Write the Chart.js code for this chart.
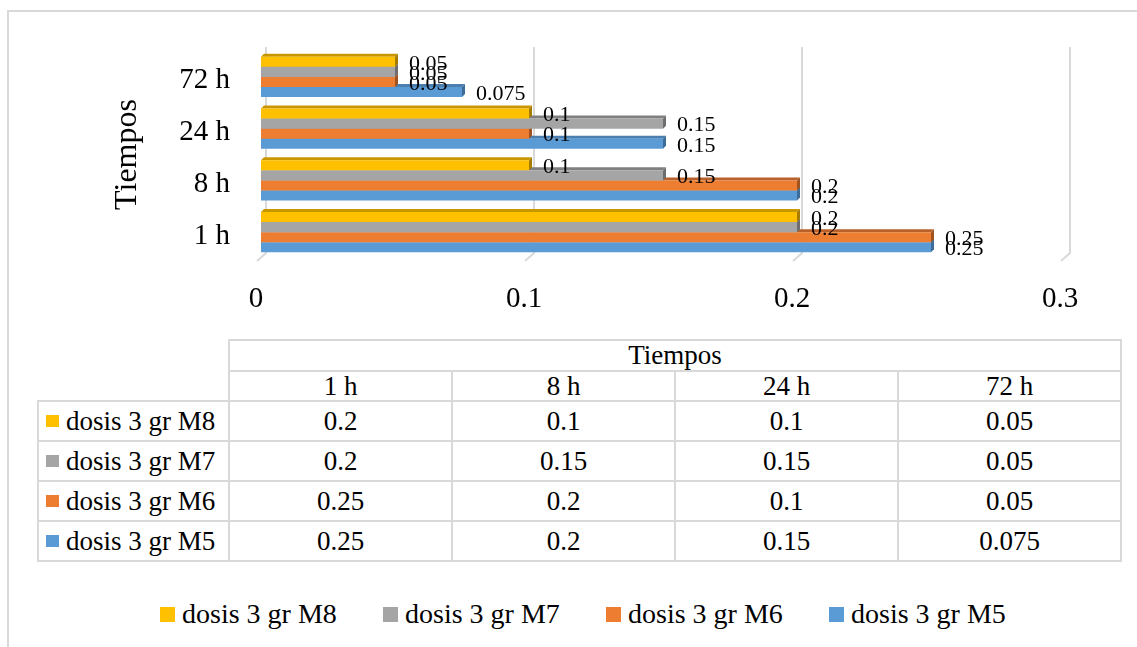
<!DOCTYPE html>
<html>
<head>
<meta charset="utf-8">
<script src="https://cdn.jsdelivr.net/npm/chart.js@4/dist/chart.umd.min.js"></script>
<style>
  html, body { margin: 0; padding: 0; background: #fff; }
  #wrap { position: relative; width: 1137px; height: 647px; overflow: hidden; font-family: "Liberation Serif", "Times New Roman", serif; color: #000; }
  #frame { position: absolute; left: 7px; top: 10px; width: 1200px; height: 700px; border: 2px solid #d9d9d9; box-sizing: border-box; }
  #chart { position: absolute; left: 0; top: 0; }
  .cell { position: absolute; box-sizing: border-box; border: 2px solid #d9d9d9; display: flex; align-items: center; justify-content: center; font-size: 27px; white-space: nowrap; }
  .cell.key { justify-content: flex-start; padding-left: 7px; }
  .sw { display: inline-block; width: 13px; height: 12px; margin-right: 7px; }
  .leg { position: absolute; top: 596px; height: 36px; display: flex; align-items: center; font-size: 28px; white-space: nowrap; }
  .leg .sw { width: 15px; height: 15px; margin-right: 7px; }
</style>
</head>
<body>
<div id="wrap">
  <div id="frame"></div>
  <canvas id="chart" width="1137" height="335"></canvas>
  <div id="table"></div>
  <div id="legend"></div>
</div>
<script>
// Time points (category axis) and one value list per series
const categories = ['1 h', '8 h', '24 h', '72 h'];
const seriesNames = ['dosis 3 gr M8', 'dosis 3 gr M7', 'dosis 3 gr M6', 'dosis 3 gr M5'];
const valuesM8 = [0.2, 0.1, 0.1, 0.05];
const valuesM7 = [0.2, 0.15, 0.15, 0.05];
const valuesM6 = [0.25, 0.2, 0.1, 0.05];
const valuesM5 = [0.25, 0.2, 0.15, 0.075];
const xTickValues = [0, 0.1, 0.2, 0.3];
const axisTitle = 'Tiempos';

const seriesValues = [valuesM8, valuesM7, valuesM6, valuesM5];
const fillColors = ['#FFC000', '#A5A5A5', '#ED7D31', '#5B9BD5'];
const topColors = ['#C79600', '#808080', '#B9612A', '#4A7FB0'];
const sideColors = ['#A67C00', '#6E6E6E', '#A0521F', '#3D6C98'];

const SERIF = '"Liberation Serif", "Times New Roman", serif';
const DEPTH = 3;

// Back-wall gridlines with a short slanted foot, like a 3-D floor edge
const wallGrid = {
  id: 'wallGrid',
  beforeDatasetsDraw(chart) {
    const { ctx, chartArea, scales } = chart;
    ctx.save();
    ctx.strokeStyle = '#d9d9d9';
    ctx.lineWidth = 2;
    xTickValues.forEach(v => {
      const px = scales.x.getPixelForValue(v);
      ctx.beginPath();
      ctx.moveTo(px + 5, chartArea.top - 4);
      ctx.lineTo(px + 5, chartArea.bottom - 5);
      ctx.lineTo(px - 4, chartArea.bottom + 3);
      ctx.stroke();
    });
    ctx.restore();
  }
};

// Top and end faces of each bar, drawn before the front faces
const barDepth = {
  id: 'barDepth',
  beforeDatasetsDraw(chart) {
    const ctx = chart.ctx;
    ctx.save();
    for (let d = chart.data.datasets.length - 1; d >= 0; d--) {
      const meta = chart.getDatasetMeta(d);
      meta.data.forEach(bar => {
        const x0 = bar.base, x1 = bar.x;
        const top = bar.y - bar.height / 2, bottom = bar.y + bar.height / 2;
        ctx.fillStyle = topColors[d];
        ctx.beginPath();
        ctx.moveTo(x0, top);
        ctx.lineTo(x0 + DEPTH, top - DEPTH);
        ctx.lineTo(x1 + DEPTH, top - DEPTH);
        ctx.lineTo(x1, top);
        ctx.closePath();
        ctx.fill();
        ctx.fillStyle = sideColors[d];
        ctx.beginPath();
        ctx.moveTo(x1, top);
        ctx.lineTo(x1 + DEPTH, top - DEPTH);
        ctx.lineTo(x1 + DEPTH, bottom - DEPTH);
        ctx.lineTo(x1, bottom);
        ctx.closePath();
        ctx.fill();
      });
    }
    ctx.restore();
  }
};

// Value labels just past the end of every bar
const endLabels = {
  id: 'endLabels',
  afterDatasetsDraw(chart) {
    const ctx = chart.ctx;
    ctx.save();
    ctx.font = '22px ' + SERIF;
    ctx.fillStyle = '#000';
    ctx.textAlign = 'left';
    ctx.textBaseline = 'middle';
    chart.data.datasets.forEach((ds, d) => {
      chart.getDatasetMeta(d).data.forEach((bar, i) => {
        ctx.fillText(String(ds.data[i]), bar.x + 14, bar.y + 2);
      });
    });
    ctx.restore();
  }
};

const PAD_LEFT = 104, PLOT_LEFT = 261, PLOT_BOTTOM = 258, CANVAS_H = 335;

new Chart(document.getElementById('chart'), {
  type: 'bar',
  data: {
    labels: categories,
    datasets: seriesNames.map((name, k) => ({
      label: name,
      data: seriesValues[k],
      backgroundColor: fillColors[k],
      borderWidth: 0,
      categoryPercentage: 0.78,
      barPercentage: 1.0
    }))
  },
  options: {
    indexAxis: 'y',
    responsive: false,
    animation: false,
    layout: { padding: { left: PAD_LEFT, right: 72, top: 51, bottom: 0 } },
    plugins: { legend: { display: false }, tooltip: { enabled: false } },
    scales: {
      x: {
        min: 0, max: 0.3,
        afterBuildTicks: s => { s.ticks = xTickValues.map(v => ({ value: v })); },
        afterFit: s => { s.height = CANVAS_H - PLOT_BOTTOM; },
        grid: { display: false, drawTicks: false },
        border: { display: false },
        ticks: {
          font: { family: SERIF, size: 29 },
          color: '#000',
          padding: 24,
          labelOffset: -5,
          callback: v => String(v)
        }
      },
      y: {
        reverse: true,
        afterFit: s => { s.width = PLOT_LEFT - PAD_LEFT; },
        grid: { display: false, drawTicks: false },
        border: { display: false },
        ticks: { font: { family: SERIF, size: 29 }, color: '#000', padding: 31, labelOffset: 4 },
        title: { display: true, text: axisTitle, font: { family: SERIF, size: 32 }, color: '#000', padding: 4 }
      }
    }
  },
  plugins: [wallGrid, barDepth, endLabels]
});

// Data table under the plot
const colX = [38, 229, 452, 675, 898, 1121];
const rowY = [340, 371, 401, 441, 481, 521, 561];
const table = document.getElementById('table');
function cell(x0, y0, x1, y1, html, cls) {
  const el = document.createElement('div');
  el.className = 'cell' + (cls ? ' ' + cls : '');
  el.style.left = (x0 - 1) + 'px';
  el.style.top = (y0 - 1) + 'px';
  el.style.width = (x1 - x0 + 2) + 'px';
  el.style.height = (y1 - y0 + 2) + 'px';
  el.innerHTML = html;
  table.appendChild(el);
}
cell(colX[1], rowY[0], colX[5], rowY[1], axisTitle);
categories.forEach((c, j) => cell(colX[j + 1], rowY[1], colX[j + 2], rowY[2], c));
seriesNames.forEach((name, k) => {
  cell(colX[0], rowY[k + 2], colX[1], rowY[k + 3],
    '<span class="sw" style="background:' + fillColors[k] + '"></span>' + name, 'key');
  seriesValues[k].forEach((v, j) => cell(colX[j + 1], rowY[k + 2], colX[j + 2], rowY[k + 3], String(v)));
});

// Series legend along the bottom
const legend = document.getElementById('legend');
seriesNames.forEach((name, k) => {
  const item = document.createElement('div');
  item.className = 'leg';
  item.style.left = (160 + k * 223) + 'px';
  item.innerHTML = '<span class="sw" style="background:' + fillColors[k] + '"></span>' + name;
  legend.appendChild(item);
});
</script>
</body>
</html>
